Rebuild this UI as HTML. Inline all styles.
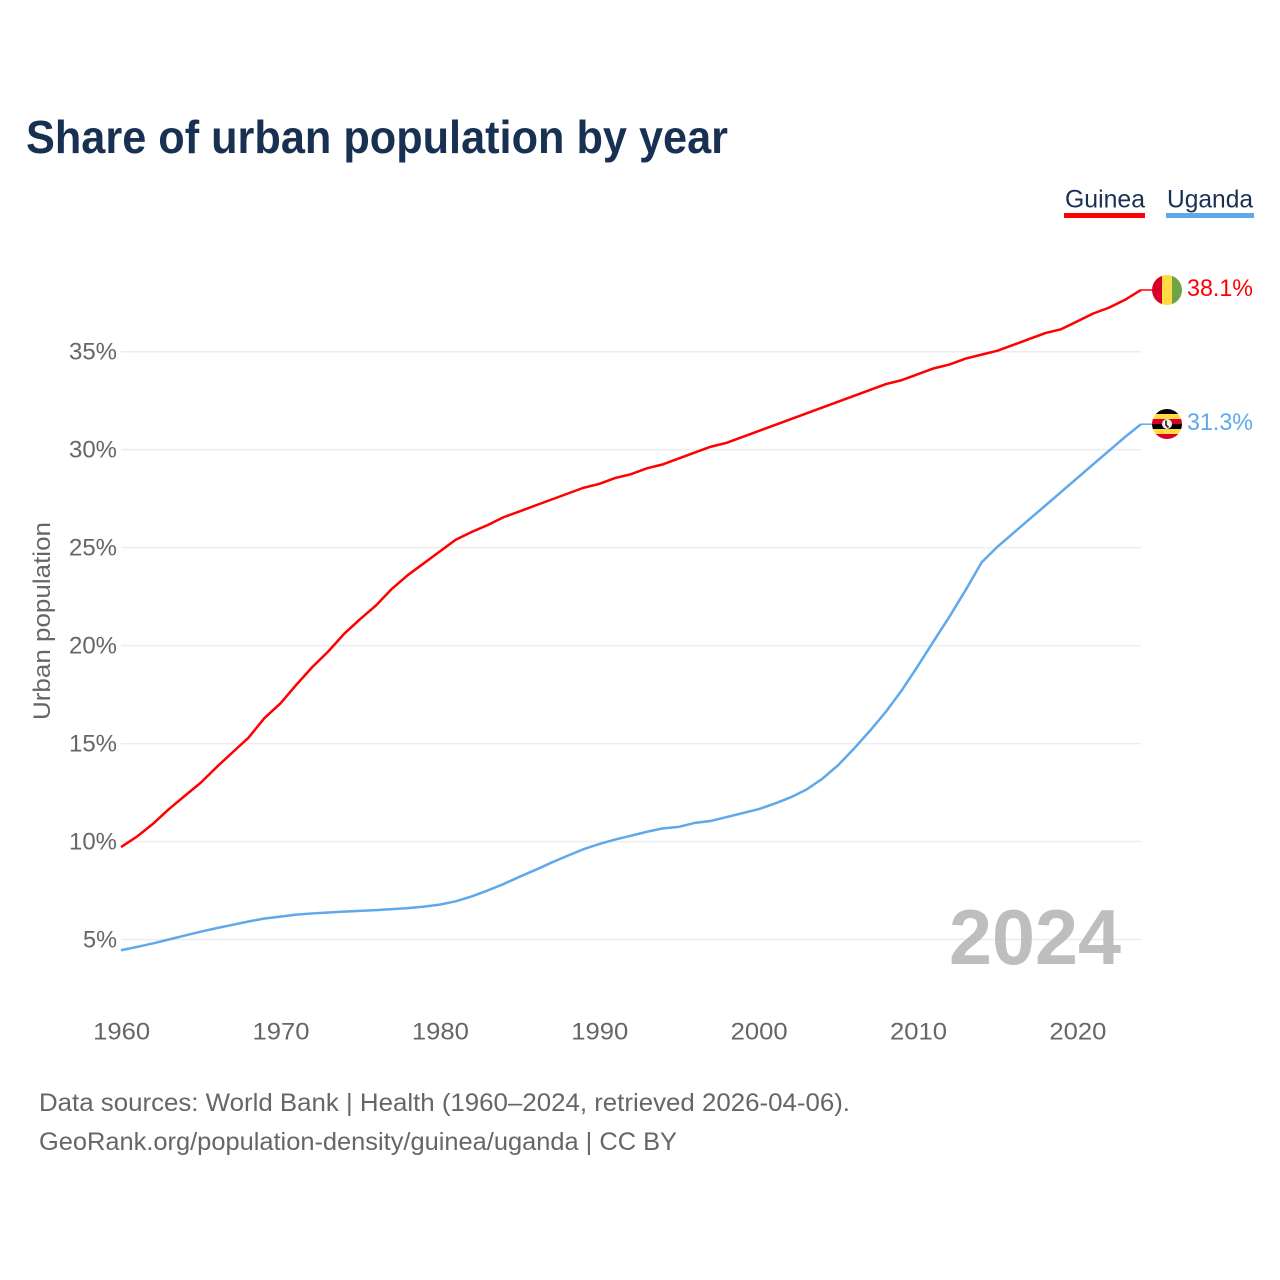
<!DOCTYPE html>
<html lang="en">
<head>
<meta charset="utf-8">
<title>Share of urban population by year</title>
<style>
html,body{margin:0;padding:0;background:#fff;}
svg{display:block;font-family:"Liberation Sans",sans-serif;}
</style>
</head>
<body>
<svg id="chart" xmlns="http://www.w3.org/2000/svg" width="1280" height="1280" viewBox="0 0 1280 1280">
  <defs>
    <clipPath id="flag-clip-guinea"><circle cx="1167" cy="290" r="15"/></clipPath>
    <clipPath id="flag-clip-uganda"><circle cx="1167" cy="424" r="15"/></clipPath>
  </defs>
  <rect x="0" y="0" width="1280" height="1280" fill="#fff"/>
  <text x="26" y="153" font-size="46" font-weight="700" fill="#183153" textLength="702" lengthAdjust="spacingAndGlyphs">Share of urban population by year</text>

  <g id="grid"></g>
  <g id="y-axis"></g>
  <g id="x-axis"></g>
  <text transform="translate(50,720) rotate(-90)" font-size="24" fill="#666" textLength="198" lengthAdjust="spacingAndGlyphs">Urban population</text>

  <text x="949" y="964" font-size="78" font-weight="700" fill="#b3b3b3" fill-opacity="0.85" textLength="172" lengthAdjust="spacingAndGlyphs">2024</text>

  <g id="series"></g>

  <g clip-path="url(#flag-clip-guinea)">
    <rect x="1152" y="275" width="10" height="30" fill="#d80027"/>
    <rect x="1162" y="275" width="10" height="30" fill="#ffda44"/>
    <rect x="1172" y="275" width="10" height="30" fill="#6da544"/>
  </g>
  <g clip-path="url(#flag-clip-uganda)">
    <rect x="1152" y="409" width="30" height="5" fill="#000"/>
    <rect x="1152" y="414" width="30" height="5" fill="#ffda44"/>
    <rect x="1152" y="419" width="30" height="5" fill="#d80027"/>
    <rect x="1152" y="424" width="30" height="5" fill="#000"/>
    <rect x="1152" y="429" width="30" height="5" fill="#ffda44"/>
    <rect x="1152" y="434" width="30" height="5" fill="#d80027"/>
    <circle cx="1167" cy="424" r="5" fill="#f0f0f0"/>
    <path d="M1166 420.5v4.5l2.5 2.5" stroke="#222" stroke-width="1.6" fill="none"/>
  </g>
  <text x="1187" y="296" font-size="24" fill="#ff0000" textLength="66" lengthAdjust="spacingAndGlyphs">38.1%</text>
  <text x="1187" y="430" font-size="24" fill="#5fa8ec" textLength="66" lengthAdjust="spacingAndGlyphs">31.3%</text>

  <g>
    <g>
      <text x="1065" y="207.5" font-size="25" fill="#183153" textLength="80" lengthAdjust="spacingAndGlyphs">Guinea</text>
      <rect x="1064" y="213" width="81" height="5" fill="#ff0000"/>
    </g>
    <g>
      <text x="1167" y="207.5" font-size="25" fill="#183153" textLength="86" lengthAdjust="spacingAndGlyphs">Uganda</text>
      <rect x="1166" y="213" width="88" height="5" fill="#5fa8ec"/>
    </g>
  </g>

  <text x="39" y="1111" font-size="25" fill="#666" textLength="811" lengthAdjust="spacingAndGlyphs">Data sources: World Bank | Health (1960–2024, retrieved 2026-04-06).</text>
  <text x="39" y="1150" font-size="25" fill="#666" textLength="638" lengthAdjust="spacingAndGlyphs">GeoRank.org/population-density/guinea/uganda | CC BY</text>
</svg>
<script>
const years = [1960,1961,1962,1963,1964,1965,1966,1967,1968,1969,1970,1971,1972,1973,1974,1975,1976,1977,1978,1979,1980,1981,1982,1983,1984,1985,1986,1987,1988,1989,1990,1991,1992,1993,1994,1995,1996,1997,1998,1999,2000,2001,2002,2003,2004,2005,2006,2007,2008,2009,2010,2011,2012,2013,2014,2015,2016,2017,2018,2019,2020,2021,2022,2023,2024];
const guinea = [9.72,10.25,10.9,11.65,12.33,13.0,13.8,14.55,15.3,16.3,17.05,18.0,18.9,19.7,20.6,21.35,22.05,22.9,23.6,24.2,24.8,25.4,25.8,26.15,26.55,26.85,27.15,27.45,27.75,28.05,28.25,28.55,28.75,29.05,29.25,29.55,29.85,30.15,30.35,30.65,30.95,31.25,31.55,31.85,32.15,32.45,32.75,33.05,33.35,33.55,33.85,34.15,34.35,34.65,34.85,35.05,35.35,35.65,35.95,36.15,36.55,36.95,37.25,37.65,38.15];
const uganda = [4.45,4.62,4.8,5.0,5.2,5.4,5.58,5.75,5.92,6.07,6.17,6.27,6.33,6.38,6.42,6.46,6.5,6.55,6.6,6.68,6.78,6.95,7.2,7.5,7.83,8.2,8.55,8.92,9.27,9.6,9.87,10.1,10.3,10.5,10.67,10.75,10.95,11.05,11.25,11.45,11.65,11.93,12.25,12.65,13.2,13.9,14.75,15.66,16.63,17.73,18.96,20.24,21.5,22.84,24.25,25.05,25.75,26.45,27.15,27.85,28.55,29.25,29.95,30.65,31.3];
const yTicks = [5,10,15,20,25,30,35];
const xTicks = [1960,1970,1980,1990,2000,2010,2020];

const NS = 'http://www.w3.org/2000/svg';
function xScale(year){ return 121 + (year - 1960) * (1141 - 121) / (2024 - 1960); }
function yScale(value){ return 939.5 - (value - 5) * (939.5 - 351.7) / 30; }
function make(tag, attrs, parent){
  const el = document.createElementNS(NS, tag);
  for (const k in attrs) el.setAttribute(k, attrs[k]);
  parent.appendChild(el);
  return el;
}
const grid = document.getElementById('grid');
const yAxis = document.getElementById('y-axis');
const xAxis = document.getElementById('x-axis');
const seriesGroup = document.getElementById('series');

yTicks.forEach(function(t){
  const line = make('line', {x1:xScale(1960), x2:xScale(2024), y1:yScale(t), y2:yScale(t), stroke:'#ededed', 'stroke-width':1.5}, grid);
  
  
  const label = make('text', {x:117, y:yScale(t) + 8, 'font-size':24, fill:'#666', 'text-anchor':'end', textLength:(t < 10 ? 34 : 48), lengthAdjust:'spacingAndGlyphs'}, yAxis);
  label.textContent = t + '%';
  
  
});

xTicks.forEach(function(t){
  const label = make('text', {x:xScale(t) + 0.7, y:1039.5, 'font-size':24, fill:'#666', 'text-anchor':'middle', textLength:57, lengthAdjust:'spacingAndGlyphs'}, xAxis);
  label.textContent = String(t);
  
  
});

function drawSeries(values, color, name){
  const pts = values.map(function(v, i){ return xScale(years[i]).toFixed(2) + ',' + yScale(v).toFixed(2); });
  const last = values[values.length - 1];
  const line = make('polyline', {points:pts.join(' '), fill:'none', stroke:color, 'stroke-width':2.5, 'stroke-linejoin':'round'}, seriesGroup);
  
  
  const lastX = xScale(years[years.length - 1]);
  const stub = make('line', {x1:lastX, x2:lastX + 12, y1:yScale(last), y2:yScale(last), stroke:color, 'stroke-width':1.5}, seriesGroup);
  
  
}
drawSeries(uganda, '#5fa8ec', 'uganda-line');
drawSeries(guinea, '#ff0000', 'guinea-line');
</script>
</body>
</html>
